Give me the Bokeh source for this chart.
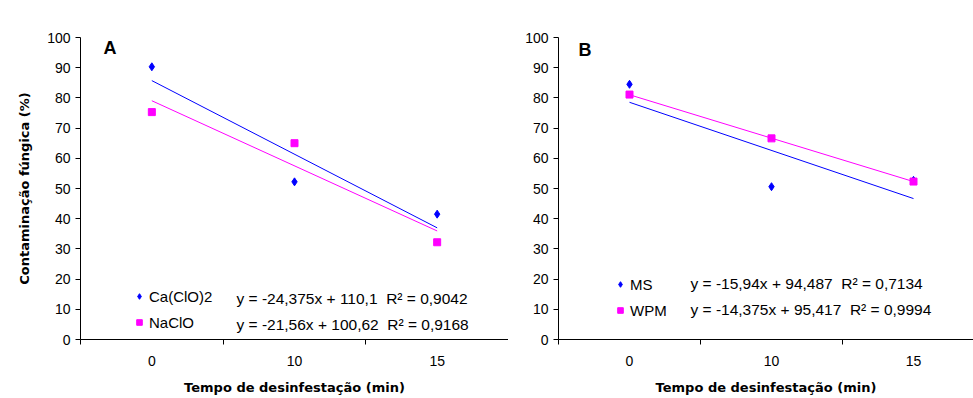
from bokeh.plotting import figure
from bokeh.models import FixedTicker, Range1d, Label, Legend, LegendItem
from bokeh.layouts import row
from bokeh.embed import file_html
from bokeh.resources import INLINE

# ---- data ----
x_labels = ["0", "10", "15"]
x_pos = [1, 2, 3]

# Panel A
a_names = ["Ca(ClO)2", "NaClO"]
a_caclo = [90.3, 52.2, 41.5]
a_naclo = [75.3, 65.0, 32.2]
a_slopes = [-24.375, -21.56]
a_intercepts = [110.1, 100.62]
a_eqs = ["y = -24,375x + 110,1\u00a0\u00a0R\u00b2 = 0,9042",
         "y = -21,56x + 100,62\u00a0\u00a0R\u00b2 = 0,9168"]

# Panel B
b_names = ["MS", "WPM"]
b_ms = [84.5, 50.6, 52.7]
b_wpm = [81.1, 66.6, 52.3]
b_slopes = [-15.94, -14.375]
b_intercepts = [94.487, 95.417]
b_eqs = ["y = -15,94x + 94,487\u00a0\u00a0R\u00b2 = 0,7134",
         "y = -14,375x + 95,417\u00a0\u00a0R\u00b2 = 0,9994"]

y_ticks = list(range(0, 101, 10))
cat_edges = [0.5, 1.5, 2.5, 3.5]

BLUE = "#0000FF"
MAGENTA = "#FF00FF"
TICK_FONT = "Liberation Sans"
TITLE_FONT = "DejaVu Sans"


def make_panel(width, left_border, x_end, letter, letter_xy, names, s1, s2, slopes,
               intercepts, eqs, legend_xy, eq_xy, y_title):
    p = figure(width=width, height=398, output_backend="svg", toolbar_location=None,
               x_range=Range1d(0.5, x_end), y_range=Range1d(0, 100),
               min_border_left=left_border, min_border_right=0,
               min_border_top=37, min_border_bottom=59)
    p.outline_line_color = None
    p.grid.visible = False
    p.background_fill_color = "white"
    p.border_fill_color = "white"

    # x axis: category labels at centres, tick marks at category edges
    xa = p.xaxis[0]
    xa.ticker = FixedTicker(ticks=x_pos, minor_ticks=cat_edges)
    xa.major_label_overrides = {xp: lab for xp, lab in zip(x_pos, x_labels)}
    xa.major_tick_out = 0
    xa.major_tick_in = 0
    xa.minor_tick_out = 5
    xa.minor_tick_in = 0
    xa.minor_tick_line_color = "black"
    xa.axis_line_color = "black"
    xa.major_label_standoff = 11
    xa.major_label_text_font = TICK_FONT
    xa.major_label_text_font_size = "14px"
    xa.major_label_text_color = "black"
    xa.axis_label = "Tempo de desinfesta\u00e7\u00e3o (min)"
    xa.axis_label_text_font = TITLE_FONT
    xa.axis_label_text_font_size = "13px"
    xa.axis_label_text_font_style = "bold"
    xa.axis_label_text_color = "black"
    xa.axis_label_standoff = 11

    ya = p.yaxis[0]
    ya.ticker = FixedTicker(ticks=y_ticks)
    ya.minor_tick_line_color = None
    ya.major_tick_out = 5
    ya.major_tick_in = 0
    ya.major_tick_line_color = "black"
    ya.axis_line_color = "black"
    ya.major_label_standoff = 5
    ya.major_label_text_font = TICK_FONT
    ya.major_label_text_font_size = "14px"
    ya.major_label_text_color = "black"
    if y_title:
        ya.axis_label = y_title
        ya.axis_label_text_font = TITLE_FONT
        ya.axis_label_text_font_size = "13px"
        ya.axis_label_text_font_style = "bold"
        ya.axis_label_text_color = "black"
        ya.axis_label_standoff = 12

    # trend lines
    for sl, ic, col in zip(slopes, intercepts, [BLUE, MAGENTA]):
        xs = [x_pos[0], x_pos[-1]]
        p.line(xs, [sl * xv + ic for xv in xs], line_color=col, line_width=1)

    r1 = p.scatter(x_pos, s1, marker="diamond", size=8, fill_color=BLUE, line_color=BLUE)
    r2 = p.scatter(x_pos, s2, marker="square", size=7, fill_color=MAGENTA, line_color=MAGENTA)

    leg = Legend(items=[LegendItem(label=names[0], renderers=[r1]),
                        LegendItem(label=names[1], renderers=[r2])],
                 location=legend_xy, orientation="vertical",
                 padding=0, margin=0, spacing=6, glyph_width=14, glyph_height=20,
                 label_height=20, label_standoff=3,
                 label_text_font=TICK_FONT, label_text_font_size="15px",
                 label_text_color="black",
                 border_line_color=None, background_fill_alpha=0)
    p.add_layout(leg, "center")

    for i, eq in enumerate(eqs):
        p.add_layout(Label(x=eq_xy[0], y=eq_xy[1] - i * 26, x_units="screen", y_units="screen",
                           text=eq, text_font=TICK_FONT, text_font_size="15.5px",
                           text_color="black", text_baseline="alphabetic", text_align="left"))

    p.add_layout(Label(x=letter_xy[0], y=letter_xy[1], x_units="screen", y_units="screen",
                       text=letter, text_font="Liberation Sans", text_font_size="18px",
                       text_font_style="bold", text_color="black",
                       text_baseline="alphabetic", text_align="left"))
    return p


pa = make_panel(508, 80, 3.5, "A", (23, 292), a_names, a_caclo, a_naclo, a_slopes,
                a_intercepts, a_eqs, (52, 7), (156, 41),
                "Contamina\u00e7\u00e3o f\u00fangica (%)")
pb = make_panel(465, 50, 0.5 + (973 - 558) / 142.0, "B", (20, 290), b_names, b_ms, b_wpm,
                b_slopes, b_intercepts, b_eqs, (55, 19), (132, 56), None)

layout = row(pa, pb, spacing=0)
open("out.html", "w").write(file_html(layout, INLINE))
